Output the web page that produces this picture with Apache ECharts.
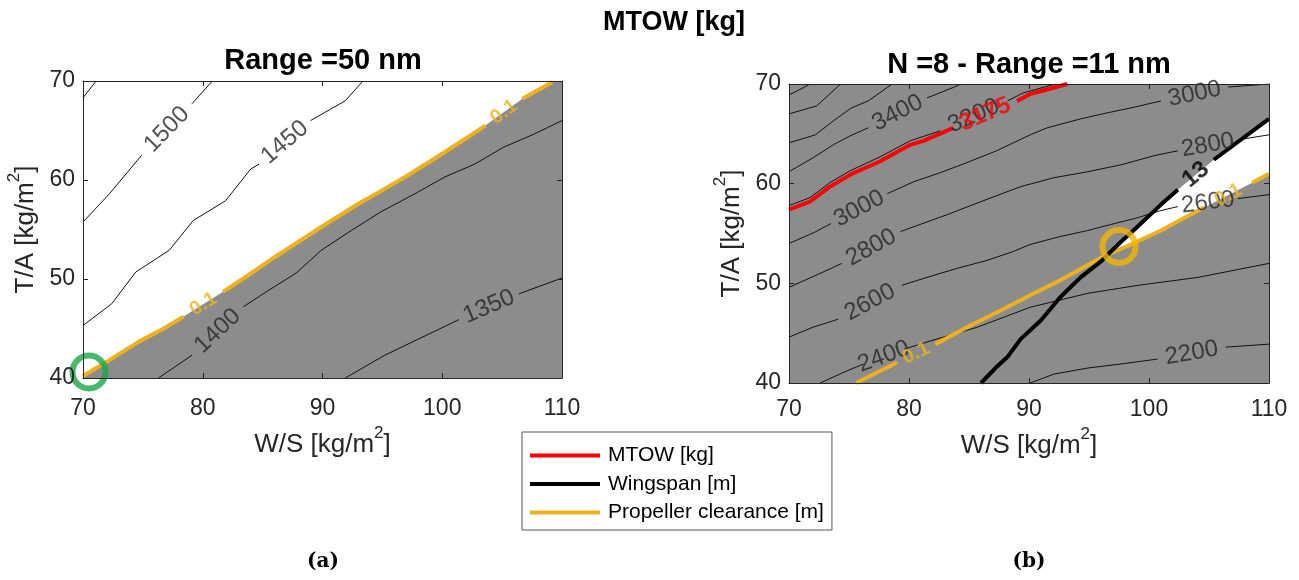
<!DOCTYPE html>
<html>
<head>
<meta charset="utf-8">
<title>MTOW [kg]</title>
<script src="https://cdn.jsdelivr.net/npm/echarts@6/dist/echarts.min.js"></script>
<style>
  html, body { margin: 0; padding: 0; background: #fff; }
  #main { width: 1299px; height: 580px; }
</style>
</head>
<body>
<div id="main"></div>
<script>
// ---- values (W/S, T/A pairs) ----
var xTicks = [70, 80, 90, 100, 110];
var yTicks = [40, 50, 60, 70];

// (a) Range = 50 nm, MTOW contours; a contour is split where its label sits
var aContours = [
    { texts: [], segs: [[[70, 68.3], [71.1, 70]]] },
    { texts: ['1500'], segs: [
        [[70, 55.75], [72.2, 58.6], [74.9, 62.5]],
        [[79.1, 67.7], [80.8, 70]]] },
    { texts: ['1450'], segs: [
        [[70, 45.3], [72.4, 47.5], [74.4, 50.7], [77.2, 52.9], [79.2, 55.9], [81.9, 57.9], [84.0, 61.1], [84.7, 61.6]],
        [[89.0, 66.0], [91.9, 68.0], [93.3, 69.9]]] },
    { texts: ['1400'], segs: [
        [[76.3, 40], [79.1, 42.3]],
        [[83.4, 47.2], [85.3, 48.7], [87.8, 50.6], [89.9, 52.9], [92.4, 54.9], [94.9, 56.8], [97.7, 58.6], [100.2, 60.3], [102.7, 61.6], [105.1, 63.3], [107.6, 64.6], [110, 66.0]]] },
    { texts: ['1350'], segs: [
        [[91.9, 40], [95.2, 42.3], [101.4, 45.9]],
        [[106.4, 48.5], [110, 50.1]]] }
];
// (a) propeller clearance = 0.1 m
var aClearTexts = ['0.1', '0.1'];
var aClearSegs = [
    [[70, 40.2], [72.2, 41.8], [74.7, 43.7], [76.6, 44.9], [78.4, 46.2]],
    [[81.7, 48.7], [83.4, 50.05], [86.0, 52.2], [89.9, 55.25], [93.0, 57.6], [94.9, 58.9], [97.1, 60.45], [100.2, 62.8], [103.6, 65.5]],
    [[106.7, 68.2], [109.2, 69.9]]
];
var aOptimum = [[70.5, 40.6]];

// (b) N = 8, Range = 11 nm, MTOW contours
var bContours = [
    { texts: [], segs: [[[70, 68.9], [71, 69.5], [71.75, 70]]] },
    { texts: [], segs: [[[70, 67.0], [72.3, 67.8], [74.3, 70]]] },
    { texts: [], segs: [[[70, 64.1], [72.2, 64.9], [73.7, 66.3], [75.2, 67.6], [76.6, 68.3], [78.6, 70]]] },
    { texts: ['3400'], segs: [
        [[70, 61.2], [72, 62.6], [73.7, 63.9], [75.1, 64.8], [76.6, 65.6]],
        [[81.5, 68.6], [84, 69.8], [84.3, 70]]] },
    { texts: ['3200'], segs: [
        [[70, 57.8], [71.75, 58.6], [73.4, 60.1], [75.1, 61.3], [77.6, 62.7], [80.1, 64.3], [82.6, 65.3]],
        [[88.2, 68.3], [89.5, 69.1], [92.2, 70]]] },
    { texts: ['3000', '3000'], segs: [
        [[70, 54.0], [72.1, 55.1], [73.5, 56.0]],
        [[78.2, 59.0], [80.4, 60.2], [82.6, 61.1], [84.8, 62.1], [87.3, 63.3], [90.1, 64.9], [91.5, 65.6], [94.3, 66.5], [96.5, 67.1], [98.5, 67.6], [101, 68.3]],
        [[106.6, 69.7], [110, 70]]] },
    { texts: ['2800', '2800'], segs: [
        [[70, 49.6], [72.6, 51.0], [74.4, 52.0]],
        [[79.3, 55.2], [83.2, 56.9], [86, 58.2], [89.3, 59.7], [92.1, 60.6], [94.9, 61.2], [97.7, 61.9], [100.4, 62.8], [102.4, 63.3]],
        [[107.4, 64.4], [110, 64.9]]] },
    { texts: ['2600', '2600'], segs: [
        [[70, 44.6], [72, 45.6], [74.1, 46.4]],
        [[79.4, 49.8], [81.5, 50.6], [84, 51.5], [86.5, 52.3], [88.7, 53.2], [90.1, 53.9], [92.6, 54.7], [94.9, 55.3], [96.8, 55.9], [98.8, 56.5], [101, 57.3], [102.4, 57.7]],
        [[107.4, 58.5], [110, 58.9]]] },
    { texts: ['2400'], segs: [
        [[72.6, 40], [74.8, 41.2], [76.2, 41.9]],
        [[79.6, 43.4], [82, 44.3], [85.7, 45.6], [90.1, 47.6], [94.9, 49.0], [99.1, 49.8], [104.1, 50.6], [110, 52.0]]] },
    { texts: ['2200'], segs: [
        [[90.1, 40], [92.1, 40.9], [94.9, 41.5], [97.6, 41.9], [100.7, 42.4]],
        [[106.4, 43.6], [110, 43.9]]] }
];
// (b) MTOW = 3175 kg
var bMtowTexts = ['3175'];
var bMtowSegs = [
    [[70, 57.4], [71.75, 58.2], [73.4, 59.7], [75.1, 60.9], [77.6, 62.25], [80.1, 63.9], [81.2, 64.3], [83.7, 65.6]],
    [[89, 68.3], [90.1, 69.0], [93.2, 70]]
];
// (b) wingspan = 13 m
var bSpanTexts = ['13'];
var bSpanSegs = [
    [[86, 40], [87.2, 41.5], [88.2, 42.6], [89.3, 44.4], [91, 46.3], [92.6, 48.6], [94.3, 50.6], [96, 52.2], [97.6, 54.1], [98.7, 55.3], [101, 57.9], [102.4, 59.4]],
    [[105.4, 62.4], [110, 66.5]]
];
// (b) propeller clearance = 0.1 m
var bClearTexts = ['0.1', '0.1'];
var bClearSegs = [
    [[75.6, 40], [79, 42.05]],
    [[82.2, 43.9], [85, 45.7], [88, 47.5], [90.1, 48.8], [92.6, 50.3], [96.2, 52.7], [98.5, 53.9], [101, 55.3], [103, 56.6], [104.6, 57.6]],
    [[108.6, 60.1], [110, 61]]
];
var bOptimum = [[97.5, 53.7]];

var legendNames = ['MTOW [kg]', 'Wingspan [m]', 'Propeller clearance [m]'];

// ---- styling ----
var FONT = 'Liberation Sans, Arial, Helvetica, sans-serif';
var AXIS = '#262626';
var GREY = '#8c8c8c';
var ORANGE = '#EDB120';
var RED = '#FF0000';
var GREEN = '#1AA64A';

var myChart = echarts.init(document.getElementById('main'));

function joinSegs(segs) {
    var out = [];
    segs.forEach(function (s) { out = out.concat(s); });
    return out;
}

function lineSeries(segs, g, color, width, name, z) {
    return segs.map(function (seg) {
        return {
            type: 'line', name: name, xAxisIndex: g, yAxisIndex: g,
            data: seg, symbol: 'none', silent: true, animation: false, z: z,
            lineStyle: { color: color, width: width }, itemStyle: { color: color }
        };
    });
}

function fillSeries(points, g, color, z) {
    return {
        type: 'line', xAxisIndex: g, yAxisIndex: g, data: points, symbol: 'none',
        silent: true, animation: false, z: z,
        lineStyle: { width: 0 }, areaStyle: { color: color, opacity: 1 }
    };
}

// axis title with a raised "2": tall line box, the "2" sits at its top
var nameStyle = {
    fontSize: 26, lineHeight: 40, color: AXIS, fontFamily: FONT,
    rich: { sup: { fontSize: 17, lineHeight: 17, color: AXIS, fontFamily: FONT, verticalAlign: 'top' } }
};

function xAx(g, pos, showLabel, margin) {
    var ax = {
        type: 'value', gridIndex: g, position: pos,
        min: xTicks[0], max: xTicks[xTicks.length - 1], interval: xTicks[1] - xTicks[0],
        z: 10,
        axisLine: { show: true, onZero: false, lineStyle: { color: AXIS, width: 1 } },
        axisTick: { show: true, inside: true, length: 5, lineStyle: { color: AXIS } },
        splitLine: { show: false },
        axisLabel: { show: showLabel, fontSize: 23, color: AXIS, fontFamily: FONT, margin: margin }
    };
    if (showLabel) {
        ax.name = 'W/S [kg/m{sup|2}]';
        ax.nameLocation = 'middle';
        ax.nameGap = 43;
        ax.nameTextStyle = nameStyle;
    }
    return ax;
}

function yAx(g, pos, showLabel, gap) {
    var ax = {
        type: 'value', gridIndex: g, position: pos,
        min: yTicks[0], max: yTicks[yTicks.length - 1], interval: yTicks[1] - yTicks[0],
        z: 10,
        axisLine: { show: true, onZero: false, lineStyle: { color: AXIS, width: 1 } },
        axisTick: { show: true, inside: true, length: 5, lineStyle: { color: AXIS } },
        splitLine: { show: false },
        axisLabel: { show: showLabel, fontSize: 23, color: AXIS, fontFamily: FONT, margin: 8 }
    };
    if (showLabel) {
        ax.name = 'T/A [kg/m{sup|2}]';
        ax.nameLocation = 'middle';
        ax.nameGap = gap;
        ax.nameRotate = 90;
        ax.nameTextStyle = nameStyle;
    }
    return ax;
}

// base series (fills, contours, design lines, optimum markers)
var series = [];
series.push(fillSeries(joinSegs(aClearSegs).concat([[110, 70]]), 0, GREY, 1));
series.push(fillSeries(joinSegs(bSpanSegs).filter(function (p) { return p[0] >= 96; }), 1, '#ffffff', 1));
series.push(fillSeries(joinSegs(bClearSegs), 1, GREY, 2));
aContours.forEach(function (c) { series = series.concat(lineSeries(c.segs, 0, '#111111', 1, '', 3)); });
bContours.forEach(function (c) { series = series.concat(lineSeries(c.segs, 1, '#111111', 1, '', 3)); });
series = series.concat(lineSeries(aClearSegs, 0, ORANGE, 4, legendNames[2], 4));
series = series.concat(lineSeries(bClearSegs, 1, ORANGE, 4, legendNames[2], 4));
series = series.concat(lineSeries(bSpanSegs, 1, '#000000', 4, legendNames[1], 4));
series = series.concat(lineSeries(bMtowSegs, 1, RED, 4, legendNames[0], 4));

function marker(data, g, color, size) {
    return {
        type: 'scatter', xAxisIndex: g, yAxisIndex: g, data: data, symbol: 'circle',
        symbolSize: size, silent: true, animation: false, z: 7,
        itemStyle: { color: 'rgba(0,0,0,0)', borderColor: color, borderWidth: 6 }
    };
}
series.push(marker(aOptimum, 0, GREEN, 33));
series.push(marker(bOptimum, 1, '#F2B600', 33));

var option = {
    animation: false,
    backgroundColor: '#ffffff',
    grid: [
        { left: 83, top: 81, width: 479, height: 297, show: false },
        { left: 789, top: 84, width: 480, height: 299, show: true, backgroundColor: GREY, borderWidth: 0 }
    ],
    xAxis: [xAx(0, 'bottom', true, 19), xAx(1, 'bottom', true, 15), xAx(0, 'top', false, 0), xAx(1, 'top', false, 0)],
    yAxis: [yAx(0, 'left', true, 37), yAx(1, 'left', true, 36), yAx(0, 'right', false, 0), yAx(1, 'right', false, 0)],
    legend: {
        orient: 'vertical', left: 522, top: 432,
        data: legendNames, icon: 'rect', itemWidth: 70, itemHeight: 4, itemGap: 7.5,
        padding: [13, 8, 7, 8], borderColor: '#555', borderWidth: 1, backgroundColor: '#fff',
        selectedMode: false,
        textStyle: { fontSize: 21, color: '#000', fontFamily: FONT, padding: [0, 0, 0, 3] }
    },
    graphic: [
        { type: 'text', x: 674, y: 23, style: { text: 'MTOW [kg]', font: 'bold 27px ' + FONT, fill: '#000', align: 'center', verticalAlign: 'middle', textAlign: 'center', textVerticalAlign: 'middle' } },
        { type: 'text', x: 323, y: 61, style: { text: 'Range =50 nm', font: 'bold 29px ' + FONT, fill: '#000', align: 'center', verticalAlign: 'middle', textAlign: 'center', textVerticalAlign: 'middle' } },
        { type: 'text', x: 1029, y: 65, style: { text: 'N =8 - Range =11 nm', font: 'bold 29px ' + FONT, fill: '#000', align: 'center', verticalAlign: 'middle', textAlign: 'center', textVerticalAlign: 'middle' } },
        { type: 'text', x: 323, y: 562, style: { text: '(a)', font: 'bold 20px DejaVu Serif, Liberation Serif, serif', fill: '#000', align: 'center', verticalAlign: 'middle', textAlign: 'center', textVerticalAlign: 'middle' } },
        { type: 'text', x: 1029, y: 562, style: { text: '(b)', font: 'bold 20px DejaVu Serif, Liberation Serif, serif', fill: '#000', align: 'center', verticalAlign: 'middle', textAlign: 'center', textVerticalAlign: 'middle' } }
    ],
    series: series
};

myChart.setOption(option);

// contour labels: placed in each gap, turned along the line
function labelSeries(segs, texts, g, color, size, weight) {
    var items = [];
    for (var i = 0; i < texts.length; i++) {
        var a = segs[i][segs[i].length - 1];
        var b = segs[i + 1][0];
        var pa = myChart.convertToPixel({ xAxisIndex: g, yAxisIndex: g }, a);
        var pb = myChart.convertToPixel({ xAxisIndex: g, yAxisIndex: g }, b);
        var ang = Math.atan2(pa[1] - pb[1], pb[0] - pa[0]) * 180 / Math.PI;
        items.push({ value: [(a[0] + b[0]) / 2, (a[1] + b[1]) / 2], label: { rotate: ang, formatter: texts[i] } });
    }
    return {
        type: 'scatter', xAxisIndex: g, yAxisIndex: g, data: items, symbolSize: 1,
        itemStyle: { color: 'rgba(0,0,0,0)' }, silent: true, animation: false, z: 6,
        label: { show: true, position: 'inside', color: color, fontSize: size, fontWeight: weight, fontFamily: FONT }
    };
}

var labels = [];
aContours.forEach(function (c) { if (c.texts.length) labels.push(labelSeries(c.segs, c.texts, 0, AXIS, 24, 'normal')); });
bContours.forEach(function (c) { if (c.texts.length) labels.push(labelSeries(c.segs, c.texts, 1, AXIS, 24, 'normal')); });
labels.push(labelSeries(aClearSegs, aClearTexts, 0, ORANGE, 20, 'bold'));
labels.push(labelSeries(bClearSegs, bClearTexts, 1, ORANGE, 20, 'bold'));
labels.push(labelSeries(bSpanSegs, bSpanTexts, 1, '#000000', 24, 'bold'));
labels.push(labelSeries(bMtowSegs, bMtowTexts, 1, RED, 24, 'bold'));

myChart.setOption({ series: series.concat(labels) });
</script>
</body>
</html>
